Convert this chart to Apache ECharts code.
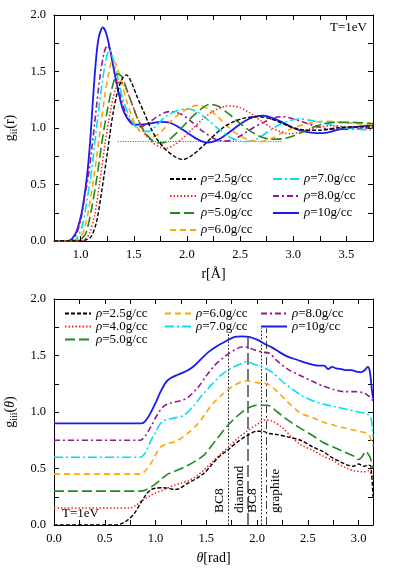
<!DOCTYPE html>
<html><head><meta charset="utf-8">
<script src="https://cdn.jsdelivr.net/npm/echarts@6/dist/echarts.min.js"></script>
<style>html,body{margin:0;padding:0;background:#fff}#c{width:399px;height:568px}</style>
</head><body><div id="c"></div>
<script>
// ---- series names ----
const names = ['ρ=2.5g/cc','ρ=4.0g/cc','ρ=5.0g/cc','ρ=6.0g/cc','ρ=7.0g/cc','ρ=8.0g/cc','ρ=10g/cc'];

// ---- top panel: g_ii(r) [r, g] ----
const gr25 = [[0.75,0],[1.0,0],[1.05,0.01],[1.1,0.04],[1.15,0.17],[1.2,0.45],[1.25,0.77],[1.3,1.1],[1.35,1.33],[1.4,1.45],[1.43,1.47],[1.48,1.40],[1.53,1.28],[1.6,1.13],[1.66,1.0],[1.72,0.9],[1.8,0.81],[1.88,0.75],[1.96,0.72],[2.05,0.76],[2.15,0.84],[2.25,0.93],[2.35,1.01],[2.45,1.06],[2.55,1.09],[2.65,1.10],[2.75,1.09],[2.85,1.06],[2.95,1.02],[3.05,0.99],[3.15,0.98],[3.25,0.98],[3.4,1.0],[3.55,1.01],[3.75,1.01]];
const gr40 = [[0.75,0],[0.98,0],[1.03,0.01],[1.08,0.06],[1.13,0.22],[1.18,0.52],[1.23,0.86],[1.28,1.15],[1.33,1.35],[1.37,1.41],[1.41,1.38],[1.47,1.25],[1.53,1.10],[1.6,0.96],[1.68,0.87],[1.75,0.83],[1.8,0.82],[1.88,0.85],[1.95,0.90],[2.05,0.99],[2.15,1.08],[2.25,1.15],[2.35,1.19],[2.42,1.195],[2.5,1.18],[2.6,1.13],[2.7,1.06],[2.8,1.0],[2.9,0.96],[2.97,0.95],[3.05,0.96],[3.15,0.99],[3.25,1.01],[3.35,1.02],[3.5,1.01],[3.75,1.0]];
const gr50 = [[0.75,0],[0.97,0],[1.0,0.01],[1.05,0.07],[1.1,0.27],[1.15,0.54],[1.2,0.87],[1.25,1.15],[1.3,1.37],[1.35,1.48],[1.39,1.45],[1.45,1.30],[1.52,1.12],[1.58,1.0],[1.65,0.91],[1.72,0.87],[1.78,0.87],[1.85,0.91],[1.95,1.0],[2.05,1.10],[2.15,1.18],[2.22,1.21],[2.3,1.19],[2.4,1.12],[2.5,1.04],[2.6,0.97],[2.7,0.92],[2.8,0.90],[2.9,0.905],[3.0,0.93],[3.1,0.97],[3.2,1.01],[3.3,1.04],[3.4,1.05],[3.55,1.05],[3.75,1.04]];
const gr60 = [[0.75,0],[0.94,0],[0.99,0.02],[1.04,0.12],[1.08,0.3],[1.13,0.6],[1.18,0.95],[1.23,1.3],[1.27,1.51],[1.30,1.60],[1.33,1.57],[1.38,1.42],[1.44,1.22],[1.5,1.06],[1.56,0.97],[1.63,0.93],[1.68,0.92],[1.75,0.96],[1.85,1.06],[1.95,1.14],[2.05,1.19],[2.1,1.2],[2.2,1.17],[2.3,1.09],[2.4,1.0],[2.5,0.93],[2.6,0.89],[2.68,0.88],[2.78,0.9],[2.9,0.96],[3.0,1.0],[3.1,1.03],[3.2,1.05],[3.3,1.06],[3.45,1.05],[3.6,1.04],[3.75,1.03]];
const gr70 = [[0.75,0],[0.92,0],[0.97,0.03],[1.02,0.15],[1.06,0.36],[1.1,0.6],[1.15,1.0],[1.2,1.38],[1.24,1.61],[1.27,1.69],[1.3,1.63],[1.35,1.44],[1.4,1.25],[1.46,1.1],[1.52,1.01],[1.58,0.97],[1.64,0.97],[1.72,1.03],[1.8,1.1],[1.9,1.15],[2.0,1.17],[2.1,1.14],[2.2,1.07],[2.3,0.99],[2.4,0.92],[2.5,0.885],[2.56,0.88],[2.65,0.9],[2.75,0.96],[2.85,1.02],[2.95,1.06],[3.05,1.08],[3.15,1.07],[3.3,1.04],[3.45,1.01],[3.6,0.99],[3.75,0.98]];
const gr80 = [[0.75,0],[0.9,0],[0.95,0.04],[1.0,0.18],[1.04,0.4],[1.08,0.62],[1.13,1.02],[1.18,1.44],[1.22,1.66],[1.25,1.73],[1.28,1.68],[1.32,1.5],[1.37,1.3],[1.43,1.12],[1.5,1.03],[1.56,1.01],[1.63,1.04],[1.72,1.1],[1.8,1.14],[1.85,1.145],[1.95,1.12],[2.05,1.05],[2.15,0.97],[2.25,0.91],[2.34,0.885],[2.42,0.89],[2.52,0.94],[2.62,1.0],[2.72,1.05],[2.82,1.09],[2.91,1.1],[3.0,1.08],[3.1,1.05],[3.2,1.02],[3.35,0.99],[3.5,0.99],[3.75,1.0]];
const gr100 = [[0.75,0],[0.88,0],[0.92,0.02],[0.96,0.08],[0.99,0.17],[1.02,0.3],[1.06,0.57],[1.09,0.88],[1.11,1.16],[1.14,1.55],[1.17,1.8],[1.21,1.89],[1.24,1.84],[1.28,1.68],[1.32,1.48],[1.36,1.3],[1.4,1.16],[1.45,1.07],[1.5,1.03],[1.57,1.03],[1.65,1.04],[1.75,1.055],[1.83,1.05],[1.9,1.02],[2.0,0.96],[2.1,0.9],[2.19,0.87],[2.28,0.89],[2.38,0.95],[2.48,1.02],[2.58,1.08],[2.66,1.105],[2.72,1.11],[2.8,1.09],[2.9,1.05],[3.0,1.0],[3.1,0.97],[3.22,0.955],[3.32,0.96],[3.45,0.99],[3.6,1.01],[3.75,1.025]];
const refLineTop = [[1.35,0.88],[2.9,0.88]];

// ---- bottom panel: g_iii(theta) [theta, g] ----
const ga25 = [[0,0],[0.6,0],[0.66,0.01],[0.72,0.04],[0.79,0.1],[0.85,0.19],[0.9,0.26],[0.95,0.31],[1.0,0.325],[1.08,0.33],[1.15,0.32],[1.2,0.315],[1.25,0.33],[1.32,0.37],[1.4,0.41],[1.48,0.46],[1.55,0.53],[1.62,0.6],[1.72,0.67],[1.8,0.73],[1.9,0.79],[2.0,0.83],[2.05,0.83],[2.12,0.81],[2.2,0.8],[2.3,0.78],[2.43,0.75],[2.55,0.69],[2.65,0.65],[2.75,0.59],[2.82,0.56],[2.89,0.53],[2.95,0.52],[3.0,0.54],[3.05,0.52],[3.1,0.53],[3.12,0.52],[3.1416,0.25]];
const ga40 = [[0,0.15],[0.75,0.15],[0.8,0.17],[0.86,0.21],[0.93,0.25],[1.0,0.285],[1.08,0.31],[1.15,0.34],[1.25,0.37],[1.32,0.39],[1.4,0.43],[1.48,0.49],[1.55,0.55],[1.63,0.62],[1.72,0.69],[1.8,0.76],[1.9,0.83],[2.0,0.89],[2.08,0.93],[2.15,0.92],[2.25,0.86],[2.35,0.77],[2.43,0.71],[2.55,0.66],[2.65,0.61],[2.75,0.57],[2.82,0.53],[2.89,0.5],[2.95,0.48],[3.05,0.47],[3.1,0.48],[3.1416,0.4]];
const ga50 = [[0,0.3],[0.85,0.3],[0.9,0.31],[0.98,0.35],[1.05,0.4],[1.12,0.45],[1.2,0.48],[1.3,0.52],[1.4,0.57],[1.48,0.62],[1.55,0.7],[1.62,0.78],[1.7,0.87],[1.8,0.96],[1.9,1.03],[2.0,1.06],[2.1,1.06],[2.2,1.0],[2.3,0.93],[2.42,0.86],[2.55,0.79],[2.65,0.73],[2.75,0.69],[2.85,0.65],[2.95,0.61],[3.0,0.58],[3.03,0.6],[3.07,0.65],[3.1,0.62],[3.12,0.58],[3.1416,0.5]];
const ga60 = [[0,0.45],[0.85,0.45],[0.9,0.48],[0.95,0.54],[1.0,0.62],[1.05,0.69],[1.12,0.72],[1.2,0.74],[1.3,0.8],[1.4,0.88],[1.48,0.97],[1.55,1.06],[1.65,1.15],[1.75,1.22],[1.85,1.27],[1.9,1.275],[2.0,1.26],[2.1,1.25],[2.2,1.18],[2.3,1.09],[2.43,0.99],[2.55,0.95],[2.65,0.91],[2.75,0.885],[2.85,0.86],[2.95,0.84],[3.05,0.82],[3.1,0.8],[3.1416,0.7]];
const ga70 = [[0,0.6],[0.85,0.6],[0.9,0.64],[0.95,0.74],[1.0,0.82],[1.05,0.9],[1.1,0.93],[1.2,0.95],[1.28,0.97],[1.38,1.06],[1.46,1.15],[1.55,1.24],[1.65,1.33],[1.75,1.39],[1.85,1.43],[1.9,1.445],[1.95,1.43],[2.05,1.4],[2.15,1.35],[2.25,1.27],[2.35,1.2],[2.45,1.14],[2.55,1.1],[2.65,1.07],[2.75,1.05],[2.9,1.02],[3.0,1.0],[3.08,0.985],[3.12,0.95],[3.1416,0.78]];
const ga80 = [[0,0.75],[0.85,0.75],[0.9,0.79],[0.96,0.88],[1.02,0.98],[1.08,1.05],[1.15,1.08],[1.25,1.1],[1.32,1.13],[1.42,1.22],[1.5,1.32],[1.58,1.41],[1.68,1.49],[1.78,1.55],[1.85,1.575],[1.9,1.575],[1.97,1.55],[2.05,1.53],[2.12,1.52],[2.2,1.45],[2.3,1.38],[2.43,1.32],[2.55,1.27],[2.65,1.23],[2.75,1.2],[2.85,1.18],[2.95,1.18],[3.05,1.17],[3.1,1.14],[3.1416,1.1]];
const ga100 = [[0,0.9],[0.86,0.9],[0.9,0.92],[0.95,0.99],[1.0,1.08],[1.05,1.18],[1.1,1.26],[1.15,1.3],[1.22,1.33],[1.3,1.36],[1.37,1.4],[1.45,1.47],[1.52,1.53],[1.6,1.58],[1.7,1.63],[1.78,1.665],[1.85,1.67],[1.92,1.665],[2.0,1.64],[2.08,1.6],[2.15,1.57],[2.22,1.53],[2.3,1.49],[2.4,1.46],[2.5,1.43],[2.6,1.41],[2.66,1.41],[2.7,1.38],[2.74,1.40],[2.78,1.385],[2.83,1.38],[2.88,1.37],[2.93,1.37],[2.97,1.36],[3.02,1.35],[3.06,1.37],[3.09,1.4],[3.11,1.36],[3.13,1.2],[3.1416,1.12]];

// ---- reference angles (rad) ----
const refAngles = [1.719, 1.911, 2.04, 2.094];
const refLabels = ['BC8', 'diamond', 'BC8', 'graphite'];
const refTops = [1.70, 1.68, 1.74, 1.74];

// ---- axis ranges ----
const rRange = [0.75, 3.75];
const thRange = [0, Math.PI];
const gRange = [0, 2];
const tickStep = 0.25;

const FONT = 'Liberation Serif';
const colors = ['#000000','#ff2020','#1f8a1f','#ffa500','#00e0f0','#8e1a8e','#1a1aee'];
const dashes = [[4,2],[1.5,2],[10,4],[6,4],[9,3,2,3],[6,3,2,3],'solid'];
const widths = [1.4,1.5,1.6,1.6,1.6,1.6,1.8];
const topData = [gr25, gr40, gr50, gr60, gr70, gr80, gr100];
const botData = [ga25, ga40, ga50, ga60, ga70, ga80, ga100];

const labFmt = v => (Math.abs(v*2 - Math.round(v*2)) < 1e-6) ? v.toFixed(1) : '';

function xAx(grid, range, pos, show, name, rich) {
  return {
    type:'value', gridIndex:grid, min:range[0], max:range[1], interval:tickStep, position:pos,
    axisLine:{show:true, onZero:false, lineStyle:{color:'#000', width:1}},
    axisTick:{show:true, inside:true, length:5, lineStyle:{color:'#000'}},
    splitLine:{show:false},
    axisLabel:{show:show, formatter:labFmt, fontFamily:FONT, fontSize:12.5, color:'#000', margin:7, showMaxLabel:true},
    name: name || '', nameLocation:'middle', nameGap:24,
    nameTextStyle:{fontFamily:FONT, fontSize:14, color:'#000', rich:rich||{}}
  };
}
function yAx(grid, pos, show, name, rich) {
  return {
    type:'value', gridIndex:grid, min:gRange[0], max:gRange[1], interval:tickStep, position:pos,
    axisLine:{show:true, onZero:false, lineStyle:{color:'#000', width:1}},
    axisTick:{show:true, inside:true, length:5, lineStyle:{color:'#000'}},
    splitLine:{show:false},
    axisLabel:{show:show, formatter:labFmt, fontFamily:FONT, fontSize:12.5, color:'#000', margin:8},
    name: name || '', nameLocation:'middle', nameGap:33, nameRotate:90,
    nameTextStyle:{fontFamily:FONT, fontSize:14, color:'#000', rich:rich||{}}
  };
}
const richName = {
  n:{fontFamily:FONT, fontSize:14, lineHeight:18, color:'#000'},
  s:{fontFamily:FONT, fontSize:10, lineHeight:8, verticalAlign:'bottom', color:'#000'},
  i:{fontFamily:FONT, fontSize:14, lineHeight:18, fontStyle:'italic', color:'#000'}
};

const series = [];
for (let i = 0; i < names.length; i++) {
  series.push({
    type:'line', name:names[i], xAxisIndex:0, yAxisIndex:0, data:topData[i],
    showSymbol:false, symbol:'none', smooth:0.3, z: 10 - i,
    lineStyle:{color:colors[i], width:widths[i], type:dashes[i]}, itemStyle:{color:colors[i]}
  });
}
for (let i = 0; i < names.length; i++) {
  series.push({
    type:'line', name:names[i], xAxisIndex:2, yAxisIndex:2, data:botData[i],
    showSymbol:false, symbol:'none', smooth:0.3, z: 10 - i,
    lineStyle:{color:colors[i], width:widths[i], type:dashes[i]}, itemStyle:{color:colors[i]}
  });
}
series.push({
  type:'line', name:'ref', xAxisIndex:0, yAxisIndex:0, data:refLineTop, showSymbol:false, symbol:'none',
  lineStyle:{color:'#555', width:1, type:[1,1.5]}, silent:true
});
const refStyles = [
  {color:'#222', width:0.9, type:[2,1.5]},
  {color:'#555', width:1.6, type:[12,4]},
  {color:'#222', width:0.9, type:[2,1.5]},
  {color:'#222', width:0.9, type:[8,3,2,3]}
];
for (let k = 0; k < refAngles.length; k++) {
  series.push({
    type:'line', name:'v'+k, xAxisIndex:2, yAxisIndex:2, data:[], silent:true,
    markLine:{
      symbol:['none','none'], silent:true, animation:false,
      lineStyle:refStyles[k],
      label:{show:true, formatter:refLabels[k], position: k===3 ? 'insideStartBottom' : 'insideStartTop',
             fontFamily:FONT, fontSize:13.5, color:'#000', distance:[12,2]},
      data:[[{coord:[refAngles[k],0]},{coord:[refAngles[k],refTops[k]]}]]
    }
  });
}

const legFmt = n => '{i|ρ}' + n.slice(1);
const legRich = {i:{fontFamily:FONT, fontSize:13, fontStyle:'italic', color:'#000'}};
function leg(data, left, top, gap, lh) {
  return {
    data:data, orient:'vertical', left:left, top:top, itemGap:gap, itemWidth:26, itemHeight:8,
    formatter:legFmt, selectedMode:false,
    itemStyle:{color:'rgba(0,0,0,0)', borderColor:'rgba(0,0,0,0)', borderWidth:0, opacity:0},
    textStyle:{fontFamily:FONT, fontSize:13, color:'#000', lineHeight:lh, rich:legRich}
  };
}

const option = {
  animation:false,
  backgroundColor:'#fff',
  grid:[
    {left:54, right:26, top:15, height:226, containLabel:false, outerBoundsMode:'none'},
    {left:54, right:26, top:299, height:226, containLabel:false, outerBoundsMode:'none'}
  ],
  xAxis:[
    xAx(0, rRange, 'bottom', true, '{n|r[Å]}', richName),
    xAx(0, rRange, 'top', false),
    xAx(1, thRange, 'bottom', true, '{i|θ}{n|[rad]}', richName),
    xAx(1, thRange, 'top', false)
  ],
  yAxis:[
    yAx(0, 'left', true, '{n|g}{s|ii}{n|(r)}', richName),
    yAx(0, 'right', false),
    yAx(1, 'left', true, '{n|g}{s|iii}{n|(}{i|θ}{n|)}', richName),
    yAx(1, 'right', false)
  ],
  legend:[
    leg(names.slice(0,4), 164, 167, 3, 14),
    leg(names.slice(4,7), 267, 167, 3, 14),
    leg(names.slice(0,3), 59, 302, 0, 11.7),
    leg(names.slice(3,5), 159, 302, 0, 11.7),
    leg(names.slice(5,7), 255, 302, 0, 11.7)
  ],
  graphic:[
    {type:'text', right:32, top:21, style:{text:'T=1eV', font:'13px "Liberation Serif"', fill:'#000'}},
    {type:'text', left:62, top:507, style:{text:'T=1eV', font:'13px "Liberation Serif"', fill:'#000'}}
  ],
  series:series
};
const chart = echarts.init(document.getElementById('c'), null, {renderer:'canvas'});
chart.setOption(option);
</script></body></html>
